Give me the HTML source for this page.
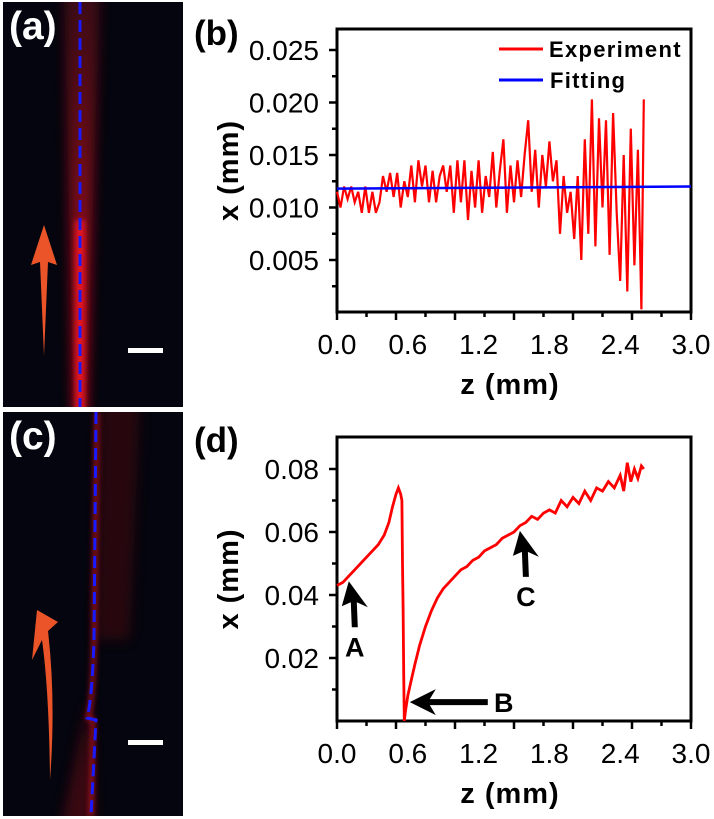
<!DOCTYPE html>
<html><head><meta charset="utf-8"><style>
body{margin:0;background:#fff;width:714px;height:819px;overflow:hidden;font-family:"Liberation Sans",Arial,sans-serif}
svg{position:absolute;left:0;top:0}
</style></head><body>
<svg id="fig" width="714" height="819" viewBox="0 0 714 819">
<defs>
<linearGradient id="beamA" x1="0" y1="0" x2="0" y2="1">
<stop offset="0" stop-color="#a01020" stop-opacity="0.45"/><stop offset="1" stop-color="#ff1020" stop-opacity="1"/></linearGradient>
<filter id="blur3" x="-100%" y="-10%" width="300%" height="120%"><feGaussianBlur stdDeviation="3"/></filter>
<filter id="blur6" x="-100%" y="-10%" width="300%" height="120%"><feGaussianBlur stdDeviation="6"/></filter>
<clipPath id="clipA"><rect x="3" y="2" width="180" height="405"/></clipPath>
<clipPath id="clipC"><rect x="3" y="412" width="180" height="404"/></clipPath>
</defs>
<!-- panel a -->
<g>
<rect x="3" y="2" width="180" height="405" fill="#04050e"/>
<g clip-path="url(#clipA)">
<polygon points="64,-10 100,-10 86,420 74,420" fill="url(#beamA)" filter="url(#blur6)" opacity="0.8"/>
<polygon points="75,220 85,220 84,420 76,420" fill="#ff1525" opacity="0.8" filter="url(#blur3)"/>
</g>
<line x1="80" y1="2" x2="80" y2="407" stroke="#1a1aff" stroke-width="3" stroke-dasharray="12,6"/>
<polygon points="44,225 31,265 40,262 44,356 48,262 57,265" fill="#ea5428"/>
<rect x="128" y="348" width="35" height="5" fill="#fff"/>
<text x="9" y="39" font-size="39" font-weight="bold" fill="#fff">(a)</text>
</g>
<!-- panel c -->
<g>
<rect x="3" y="412" width="180" height="404" fill="#04050e"/>
<g clip-path="url(#clipC)">
<polygon points="100,400 140,400 130,640 96,640" fill="#6a0810" opacity="0.35" filter="url(#blur6)"/>
<polygon points="60,830 88,700 96,830" fill="#7a0a14" opacity="0.45" filter="url(#blur6)"/>
<path d="M97,412 L94,640 Q93,700 88,718 L93,720 L91,816" stroke="#ff1525" stroke-width="4" fill="none" opacity="0.7" filter="url(#blur3)"/>
</g>
<path d="M96,412 L94,640 Q92,700 87,718 L96,720 L91,816" stroke="#1a1aff" stroke-width="3" fill="none" stroke-dasharray="12,6"/>
<path d="M50,780 Q49,690 42,640 L32,660 L37,610 L58,622 L48,631 Q56,700 50,780 Z" fill="#ea5428"/>
<rect x="128" y="740" width="35" height="5" fill="#fff"/>
<text x="9" y="449" font-size="39" font-weight="bold" fill="#fff">(c)</text>
</g>
<text x="194" y="45" font-size="35" font-weight="bold" fill="#000">(b)</text>
<text x="194" y="452" font-size="35" font-weight="bold" fill="#000">(d)</text>
<g id="chartB"></g>
<g id="chartD"></g>
</svg>
<script>
// ---- chart b data ----
const bZ = [0,0.03,0.06,0.09,0.12,0.15,0.18,0.21,0.24,0.27,0.3,0.33,0.36,0.39,0.42,0.45,0.48,0.51,0.54,0.57,0.6,0.63,0.66,0.69,0.72,0.75,0.78,0.81,0.84,0.87,0.9,0.93,0.96,0.99,1.02,1.05,1.08,1.11,1.14,1.17,1.2,1.23,1.26,1.29,1.32,1.35,1.38,1.41,1.44,1.47,1.5,1.53,1.56,1.59,1.62,1.65,1.68,1.71,1.74,1.77,1.8,1.83,1.86,1.89,1.92,1.95,1.98,2.01,2.04,2.07,2.1,2.13,2.16,2.19,2.22,2.25,2.28,2.31,2.34,2.37,2.4,2.43,2.46,2.49,2.52,2.55,2.58,2.6];
const bExp = [0.0115,0.0100,0.0120,0.0108,0.0120,0.0105,0.0115,0.0095,0.0120,0.0095,0.0115,0.0095,0.0105,0.0130,0.0115,0.0133,0.0110,0.0133,0.0100,0.0125,0.0110,0.0140,0.0105,0.0145,0.0120,0.0140,0.0105,0.0135,0.0105,0.0130,0.0140,0.0115,0.0140,0.0095,0.0145,0.0105,0.0145,0.0088,0.0135,0.0100,0.0145,0.0095,0.0130,0.0110,0.0153,0.0100,0.0135,0.0165,0.0095,0.0140,0.0105,0.0145,0.0110,0.0150,0.0183,0.0115,0.0155,0.0100,0.0150,0.0120,0.0163,0.0125,0.0145,0.0075,0.0130,0.0095,0.0115,0.0070,0.0130,0.0050,0.0165,0.0075,0.0203,0.0063,0.0185,0.0100,0.0183,0.0055,0.0190,0.0095,0.0030,0.0150,0.0020,0.0175,0.0045,0.0155,0.0003,0.0203];
const bFitZ = [0,3.0];
const bFit = [0.0118,0.0120];
const bYTicks = [0.005,0.010,0.015,0.020,0.025];
const bYLabels = ["0.005","0.010","0.015","0.020","0.025"];
const xTicks = [0,0.6,1.2,1.8,2.4,3.0];
const xLabels = ["0.0","0.6","1.2","1.8","2.4","3.0"];
// ---- chart d data ----
const dZ = [0,0.05,0.1,0.15,0.2,0.25,0.3,0.35,0.4,0.44,0.47,0.5,0.52,0.54,0.55,0.555,0.56,0.565,0.57,0.58,0.6,0.63,0.66,0.7,0.75,0.8,0.85,0.9,0.95,1.0,1.05,1.1,1.15,1.2,1.25,1.3,1.35,1.4,1.45,1.5,1.55,1.6,1.65,1.7,1.75,1.8,1.85,1.9,1.95,2.0,2.05,2.1,2.15,2.2,2.25,2.3,2.35,2.4,2.43,2.46,2.49,2.52,2.55,2.58,2.6];
const dExp = [0.043,0.044,0.046,0.048,0.050,0.052,0.054,0.056,0.059,0.063,0.068,0.072,0.074,0.072,0.070,0.050,0.036,0.015,0.000,0.003,0.008,0.013,0.018,0.024,0.030,0.035,0.039,0.042,0.044,0.046,0.048,0.049,0.051,0.052,0.054,0.055,0.056,0.058,0.059,0.060,0.062,0.063,0.065,0.064,0.066,0.067,0.066,0.070,0.068,0.071,0.069,0.073,0.070,0.074,0.073,0.076,0.074,0.078,0.073,0.082,0.076,0.080,0.077,0.081,0.080];
const dYTicks = [0.02,0.04,0.06,0.08];
const dYLabels = ["0.02","0.04","0.06","0.08"];
const arrowLabels = ["A","B","C"];
const arrowZ = [0.1,0.6,1.55];
const arrowY = [0.045,0.006,0.061];

const NS="http://www.w3.org/2000/svg";
function mk(parent,tag,attrs){const e=document.createElementNS(NS,tag);for(const k in attrs)e.setAttribute(k,attrs[k]);parent.appendChild(e);return e;}
const X0=337,X1=691;
const xs=z=>X0+(z/3)*(X1-X0);

function axes(g,top,bot,ymax,yTicks,yLabels,ys,prefix){
  const box=mk(g,'rect',{x:X0,y:top,width:X1-X0,height:bot-top,fill:'none',stroke:'#000','stroke-width':3});
  
  
  for(let i=0;i<=12;i++){const v=i*0.25;const x=xs(v);const major=i%2==0;
    const t=mk(g,'line',{x1:x,y1:bot,x2:x,y2:bot+(major?8:5),stroke:'#000','stroke-width':2.5});
    
    }
  xTicks.forEach((v,i)=>{const t=mk(g,'text',{x:xs(v),y:bot+42,'font-size':28,'text-anchor':'middle'});t.textContent=xLabels[i];
    
    });
  const step=yTicks[1]-yTicks[0];
  for(let v=step/2;v<ymax;v+=step/2){const y=ys(v);const major=Math.abs(v/step-Math.round(v/step))<0.01;
    const t=mk(g,'line',{x1:X0,y1:y,x2:X0-(major?8:5),y2:y,stroke:'#000','stroke-width':2.5});
    
    }
  yTicks.forEach((v,i)=>{const t=mk(g,'text',{x:319,y:ys(v)+10,'font-size':28,'text-anchor':'end'});t.textContent=yLabels[i];
    
    });
  const xt=mk(g,'text',{x:510,y:bot+82,'font-size':29,'font-weight':'bold','text-anchor':'middle','letter-spacing':'1'});xt.textContent='z (mm)';
  
  
  const cy=(top+bot)/2;
  const yt=mk(g,'text',{x:238,y:cy,'font-size':29,'font-weight':'bold','text-anchor':'middle','letter-spacing':'1',transform:`rotate(-90 238 ${cy})`});yt.textContent='x (mm)';
  
  
}
// chart b
{const g=document.getElementById('chartB');const top=29,bot=312;
 const ys=v=>312.5-v/0.005*52.5;
 axes(g,top,bot,0.027,bYTicks,bYLabels,ys,'chart-b');
 let d='';bZ.forEach((z,i)=>{d+=(i?'L':'M')+xs(z).toFixed(1)+','+ys(bExp[i]).toFixed(1);});
 const p=mk(g,'path',{d:d,fill:'none',stroke:'#ff0000','stroke-width':2.2});
 
 
 let f='';bFitZ.forEach((z,i)=>{f+=(i?'L':'M')+xs(z)+','+ys(bFit[i]);});
 const fl=mk(g,'path',{d:f,fill:'none',stroke:'#0000ff','stroke-width':2.5});
 
 
 const l1=mk(g,'line',{x1:499,y1:49,x2:543,y2:49,stroke:'#ff0000','stroke-width':3});
 
 
 const t1=mk(g,'text',{x:549,y:57,'font-size':22,'font-weight':'bold','letter-spacing':'1.3'});t1.textContent='Experiment';
 
 
 const l2=mk(g,'line',{x1:499,y1:80,x2:543,y2:80,stroke:'#0000ff','stroke-width':3});
 
 
 const t2=mk(g,'text',{x:550,y:88,'font-size':22,'font-weight':'bold','letter-spacing':'1.3'});t2.textContent='Fitting';
 
 
}
// chart d
{const g=document.getElementById('chartD');const top=437,bot=721;
 const ys=v=>721-v/0.02*63;
 axes(g,top,bot,0.09,dYTicks,dYLabels,ys,'chart-d');
 let d='';dZ.forEach((z,i)=>{d+=(i?'L':'M')+xs(z).toFixed(1)+','+ys(dExp[i]).toFixed(1);});
 const p=mk(g,'path',{d:d,fill:'none',stroke:'#ff0000','stroke-width':2.8});
 
 
 arrowLabels.forEach((lab,i)=>{
   const x=xs(arrowZ[i]),y=ys(arrowY[i]);let path,tx,ty;
   if(lab==='B'){path=`M${x+2},${y} L${x+28},${y-13} L${x+22},${y-3} L${x+80},${y-3} L${x+80},${y+3} L${x+22},${y+3} L${x+28},${y+13} Z`;tx=x+96;ty=y+10;}
   else{path=`M${x},${y+2} L${x+19},${y+28} L${x+8},${y+23} L${x+9},${y+48} L${x+3},${y+48} L${x+2},${y+23} L${x-7},${y+27} Z`;tx=x+6;ty=y+77;}
   const a=mk(g,'path',{d:path,fill:'#000'});
   
   
   const t=mk(g,'text',{x:tx,y:ty,'font-size':27,'font-weight':'bold','text-anchor':'middle'});t.textContent=lab;
   
   
 });
}
</script>
</body></html>
